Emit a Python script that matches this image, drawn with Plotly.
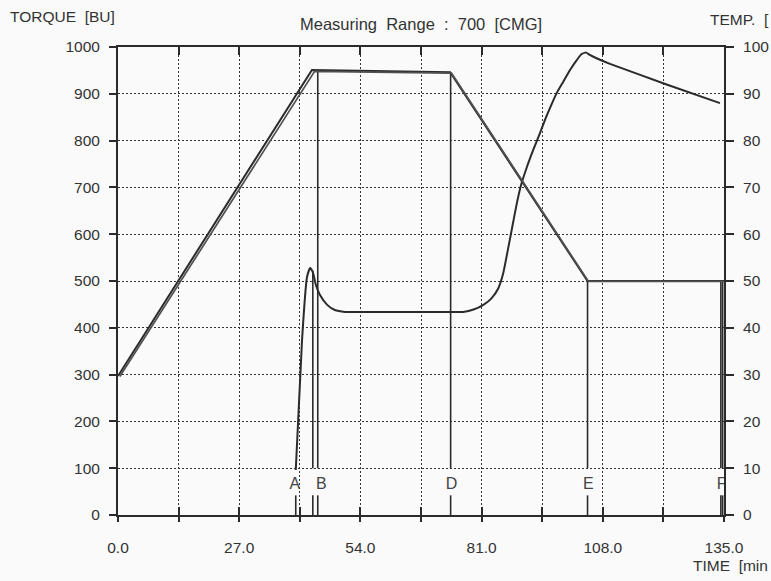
import plotly.graph_objects as go

# ---------------- data ----------------
# viscosity / torque curve (time in min, torque in BU)
visc_time = [39.6, 41.0, 42.1, 42.8, 43.4, 44.1, 45.0, 46.6, 48.3, 50.6, 60.0, 74.0, 76.9,
             79.2, 81.4, 83.2, 84.7, 85.8, 86.7, 87.7, 88.7, 89.7, 91.0, 92.5, 94.0, 95.1,
             96.2, 97.7, 99.2, 100.7, 102.2, 103.3, 104.3, 105.1, 106.6, 109.6, 121.9, 134.1]
visc_bu = [96, 374, 508, 528, 519, 491, 470, 449, 438, 434, 434, 434, 434,
           439, 449, 463, 484, 516, 559, 609, 659, 702, 741, 780, 816, 844,
           869, 901, 926, 951, 972, 985, 988, 983, 976, 964, 921, 880]

# temperature programme (two recorded traces), degC on right axis
temp1_time = [0.0, 43.2, 74.0, 104.6, 135.0]
temp1_c = [29.7, 95.1, 94.6, 50.0, 50.0]
temp2_time = [0.4, 43.8, 74.3, 104.8, 135.0]
temp2_c = [29.6, 94.8, 94.4, 49.9, 49.9]

# event markers
marker_labels = ["A", "B", "D", "E", "F"]
marker_label_time = [39.4, 45.3, 74.3, 104.8, 134.5]
marker_label_bu = [64, 64, 64, 64, 64]
# upper marker lines (time, top value in BU) ending at 100 BU
upper_time = [43.4, 44.5, 74.1, 104.6, 134.3, 134.7]
upper_top = [522, 950, 944, 500, 500, 500]
upper_bottom = 100
# short ticks under the labels
tick_time = [39.6, 43.4, 44.5, 74.1, 104.6, 134.3, 134.7]
tick_top = 42

x_ticks = [0, 13.5, 27, 40.5, 54, 67.5, 81, 94.5, 108, 121.5, 135]
x_ticktext = ["0.0", "", "27.0", "", "54.0", "", "81.0", "", "108.0", "", "135.0"]
y_ticks = [0, 100, 200, 300, 400, 500, 600, 700, 800, 900, 1000]
y2_ticks = [0, 10, 20, 30, 40, 50, 60, 70, 80, 90, 100]

INK = "#2b2b2b"
FONT = "Liberation Sans"

fig = go.Figure()

# vertical marker lines
ux, uy = [], []
for t, top in zip(upper_time, upper_top):
    ux += [t, t, None]
    uy += [top, upper_bottom, None]
fig.add_trace(go.Scatter(x=ux, y=uy, mode="lines", line=dict(color=INK, width=1.6),
                         hoverinfo="skip", showlegend=False))
tx, ty = [], []
for t in tick_time:
    tx += [t, t, None]
    ty += [0, tick_top, None]
fig.add_trace(go.Scatter(x=tx, y=ty, mode="lines", line=dict(color=INK, width=1.6),
                         hoverinfo="skip", showlegend=False))

# viscosity
fig.add_trace(go.Scatter(x=visc_time, y=visc_bu, mode="lines",
                         line=dict(color=INK, width=2, shape="spline", smoothing=0.5),
                         showlegend=False))

# temperature traces
fig.add_trace(go.Scatter(x=temp1_time, y=temp1_c, mode="lines", yaxis="y2",
                         line=dict(color=INK, width=2), showlegend=False))
fig.add_trace(go.Scatter(x=temp2_time, y=temp2_c, mode="lines", yaxis="y2",
                         line=dict(color="#505050", width=1.7), showlegend=False))

# marker labels
fig.add_trace(go.Scatter(x=marker_label_time, y=marker_label_bu, mode="text",
                         text=marker_labels, textfont=dict(family=FONT, size=16, color="#444444"),
                         hoverinfo="skip", showlegend=False))

# invisible trace for overlay axis
fig.add_trace(go.Scatter(x=[0, 135], y=[0, 0], xaxis="x2", mode="lines",
                         line=dict(width=0), hoverinfo="skip", showlegend=False))

grid = dict(showgrid=True, gridcolor="#333333", gridwidth=1, griddash="2px,2px")
TICKFONT = dict(family=FONT, size=15.5, color="#333333")

fig.update_layout(
    width=771, height=581,
    margin=dict(l=118, r=47, t=47, b=66, autoexpand=False),
    paper_bgcolor="#fafafa", plot_bgcolor="#fafafa",
    font=dict(family=FONT, size=15, color="#333333"),
    xaxis=dict(range=[0, 135], tickvals=x_ticks, ticktext=x_ticktext,
               ticks="inside", ticklen=8, tickwidth=1.6, tickcolor=INK,
               showline=True, linecolor=INK, linewidth=2, mirror="ticks",
               zeroline=False, tickfont=TICKFONT, ticklabelstandoff=17,
               automargin=False, **grid),
    xaxis2=dict(range=[0, 135], overlaying="x", side="bottom", tickvals=x_ticks,
                showticklabels=False, ticks="outside", ticklen=6, tickwidth=1.6,
                tickcolor=INK, showgrid=False, zeroline=False, showline=False,
                automargin=False),
    yaxis=dict(range=[0, 1000], tickvals=y_ticks, ticks="outside", ticklen=7,
               tickwidth=1.6, tickcolor=INK, showline=True, linecolor=INK,
               linewidth=2, zeroline=False, tickfont=TICKFONT, ticklabelstandoff=6,
               automargin=False, **grid),
    yaxis2=dict(range=[0, 100], tickvals=y2_ticks, overlaying="y", side="right",
                ticks="outside", ticklen=8, tickwidth=1.6, tickcolor=INK,
                showline=True, linecolor=INK, linewidth=2, showgrid=False,
                zeroline=False, tickfont=TICKFONT, ticklabelstandoff=6,
                automargin=False),
    annotations=[
        dict(text="TORQUE  [BU]", x=0, y=1.0, xref="paper", yref="paper",
             xanchor="left", yanchor="bottom", xshift=-110, yshift=20,
             font=dict(size=15.5), showarrow=False),
        dict(text="Measuring  Range  :  700  [CMG]", x=0.5, y=1.0, xref="paper",
             yref="paper", xanchor="center", yanchor="bottom", yshift=12,
             font=dict(size=16.5), showarrow=False),
        dict(text="TEMP.  [", x=1.0, y=1.0, xref="paper", yref="paper",
             xanchor="left", yanchor="bottom", xshift=-16, yshift=17,
             font=dict(size=15.5), showarrow=False),
        dict(text="TIME  [min", x=1.0, y=0.0, xref="paper", yref="paper",
             xanchor="right", yanchor="top", xshift=46, yshift=-40,
             font=dict(size=15.5), showarrow=False),
    ],
)

fig.write_html("out.html")
